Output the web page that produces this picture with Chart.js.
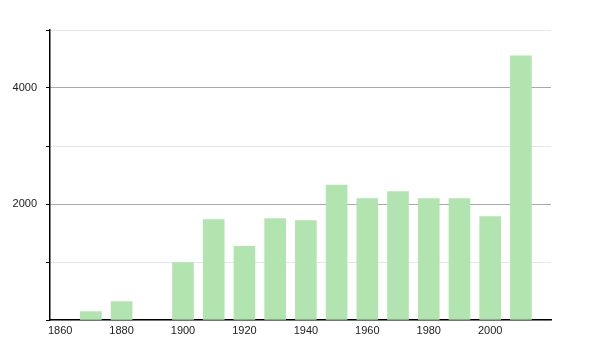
<!DOCTYPE html>
<html>
<head>
<meta charset="utf-8">
<script src="https://cdn.jsdelivr.net/npm/chart.js@4"></script>
<style>
  html,body{margin:0;padding:0;background:#fff;}
  #wrap{width:600px;height:350px;}
</style>
</head>
<body>
<div id="wrap"><canvas id="chart" width="600" height="350"></canvas></div>
<script>
// -------- data --------
const years  = [1870, 1880, 1900, 1910, 1920, 1930, 1940, 1950, 1960, 1970, 1980, 1990, 2000, 2010];
const values = [ 144,  317,  992, 1732, 1270, 1749, 1714, 2326, 2095, 2216, 2095, 2095, 1784, 4554];
const xTickYears  = [1860, 1880, 1900, 1920, 1940, 1960, 1980, 2000];
const yLabelled   = [2000, 4000];

Chart.defaults.font.family = "'Liberation Sans', Arial, sans-serif";
Chart.defaults.font.size = 11;
Chart.defaults.color = '#222';

new Chart(document.getElementById('chart'), {
    type: 'bar',
    data: {
        datasets: [{
            data: years.map((y, i) => ({x: y, y: values[i]})),
            backgroundColor: '#b2e4b0',
            borderWidth: 0,
            barThickness: 21
        }]
    },
    options: {
        responsive: false,
        animation: false,
        layout: {padding: {left: 0, right: 49, top: 30, bottom: 0}},
        plugins: {legend: {display: false}, tooltip: {enabled: false}},
        scales: {
            x: {
                type: 'linear',
                offset: false,
                min: 1856.7,
                max: 2019.8,
                afterBuildTicks: s => { s.ticks = xTickYears.map(v => ({value: v})); },
                afterFit: s => { s.height = 30; },
                grid: {display: false, drawTicks: false, offset: false},
                border: {display: true, color: '#000', width: 1.5},
                ticks: {padding: 4, maxRotation: 0, autoSkip: false, callback: v => String(v)}
            },
            y: {
                min: 0,
                max: 5000,
                afterFit: s => { s.width = 50; },
                grid: {
                    color: c => yLabelled.includes(c.tick.value) ? '#a8a8a8' : '#e6e6e6',
                    tickColor: '#000',
                    tickLength: 4
                },
                border: {display: true, color: '#000', width: 1.5},
                ticks: {
                    stepSize: 1000,
                    padding: 9,
                    callback: v => yLabelled.includes(v) ? String(v) : ''
                }
            }
        }
    }
});
</script>
</body>
</html>
